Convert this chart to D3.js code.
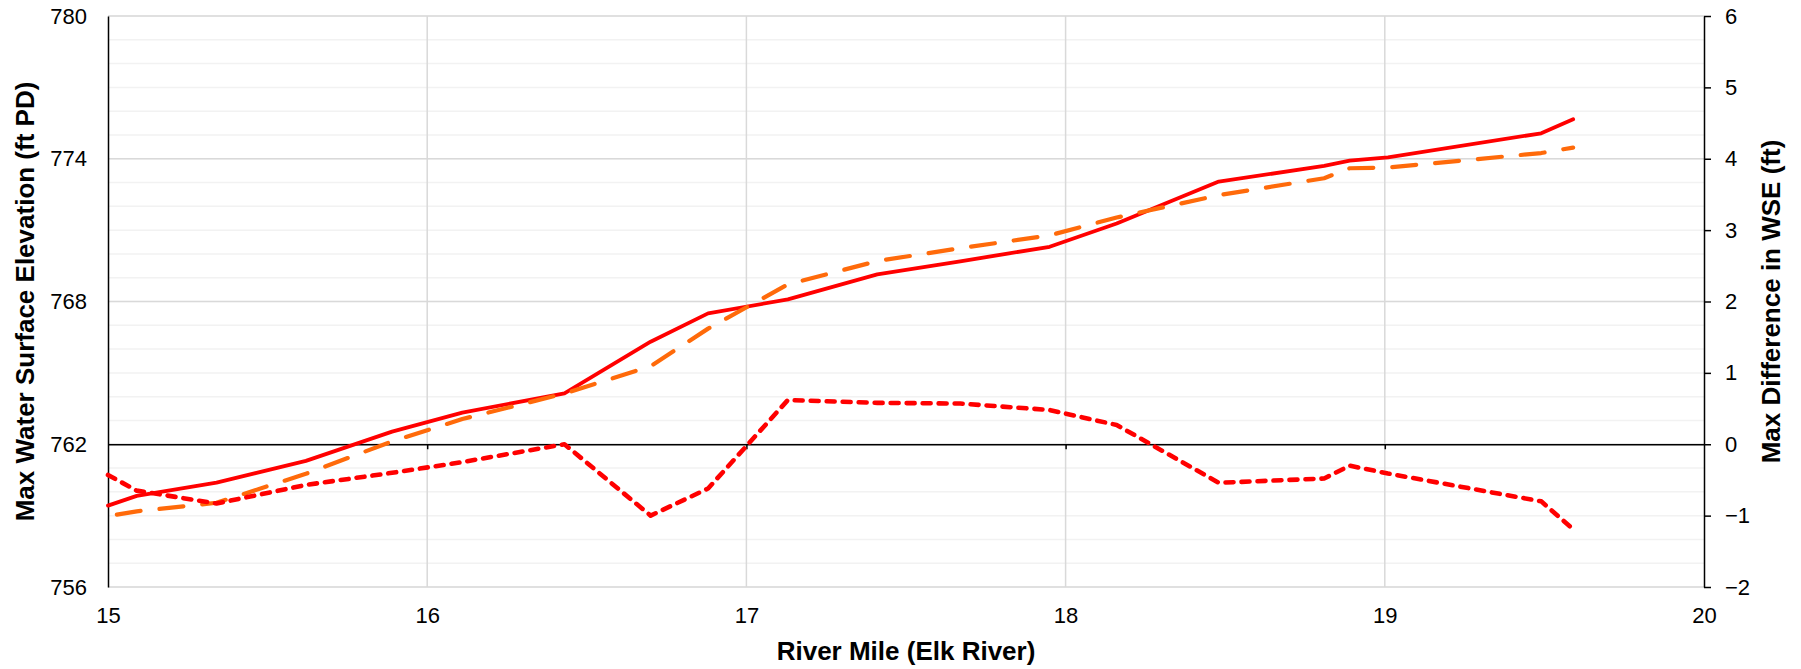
<!DOCTYPE html>
<html>
<head>
<meta charset="utf-8">
<script src="https://cdn.jsdelivr.net/npm/d3@7"></script>
<style>
  body { margin: 0; background: #fff; }
  text { font-family: "Liberation Sans", Arial, sans-serif; }
</style>
</head>
<body>
<div id="chart"></div>
<script>
// data
const miles = [15.00, 15.09, 15.34, 15.62, 15.89, 16.11, 16.43, 16.70, 16.88, 17.13, 17.41, 17.67, 17.95, 18.16, 18.48, 18.81, 18.89, 19.01, 19.49, 19.59]
const wseSolid = [759.42, 759.83, 760.39, 761.30, 762.53, 763.33, 764.14, 766.31, 767.50, 768.09, 769.14, 769.69, 770.30, 771.28, 773.04, 773.70, 773.92, 774.06, 775.07, 775.66]
const wseDashed = [758.98, 759.18, 759.54, 760.76, 762.12, 763.06, 764.13, 765.28, 766.86, 768.72, 769.70, 770.24, 770.78, 771.53, 772.47, 773.18, 773.60, 773.63, 774.24, 774.47]
const wseDiff = [-0.43, -0.65, -0.83, -0.57, -0.40, -0.25, 0.00, -1.00, -0.62, 0.62, 0.58, 0.57, 0.48, 0.27, -0.54, -0.48, -0.30, -0.41, -0.80, -1.19]

const xTicks = [15, 16, 17, 18, 19, 20]
const leftTicks = [756, 762, 768, 774, 780]
const leftMinor = d3.range(756, 781, 1)
const rightTicks = [-2, -1, 0, 1, 2, 3, 4, 5, 6]

const rows = miles.map((m, i) => ({ mile: m, solid: wseSolid[i], dashed: wseDashed[i], diff: wseDiff[i] }))

//constants
const width = 1801
const height = 669
const margins = { top: 16, bottom: 82, left: 108, right: 97 }
const fontSize = 22
const titleSize = 26

//SCALES
const xScale = d3.scaleLinear()
    .domain([15, 20])
    .range([margins.left, width - margins.right])
const yLeft = d3.scaleLinear()
    .domain([756, 780])
    .range([height - margins.bottom, margins.top])
const yRight = d3.scaleLinear()
    .domain([-2, 6])
    .range([height - margins.bottom, margins.top])

//svg
const svg = d3.select("#chart")
    .append("svg")
    .attr("width", width)
    .attr("height", height)

//minor gridlines
svg.append("g")
    .selectAll("line")
    .data(leftMinor)
    .join("line")
    .attr("x1", margins.left)
    .attr("x2", width - margins.right)
    .attr("y1", d => yLeft(d))
    .attr("y2", d => yLeft(d))
    .attr("stroke", "#f2f2f2")
    .attr("stroke-width", 1.5)

//major gridlines
svg.append("g")
    .selectAll("line")
    .data(leftTicks)
    .join("line")
    .attr("x1", margins.left)
    .attr("x2", width - margins.right)
    .attr("y1", d => yLeft(d))
    .attr("y2", d => yLeft(d))
    .attr("stroke", "#d9d9d9")
    .attr("stroke-width", 1.5)

svg.append("g")
    .selectAll("line")
    .data(xTicks.slice(1, -1))
    .join("line")
    .attr("x1", d => xScale(d))
    .attr("x2", d => xScale(d))
    .attr("y1", margins.top)
    .attr("y2", height - margins.bottom)
    .attr("stroke", "#d9d9d9")
    .attr("stroke-width", 1.5)

//axes
function styleAxis(g) {
    g.attr("font-size", fontSize)
     .attr("font-family", "'Liberation Sans', Arial, sans-serif")
    g.selectAll("text").attr("fill", "#000")
    g.selectAll("path, line").attr("stroke", "#000").attr("stroke-width", 1.5)
}

// x axis line sits on the secondary zero
svg.append("g")
    .attr("transform", `translate(0,${yRight(0)})`)
    .call(d3.axisBottom(xScale).tickValues(xTicks.slice(1, -1)).tickSize(5).tickSizeOuter(0).tickFormat(""))
    .call(styleAxis)

// x labels at the bottom
svg.append("g")
    .attr("transform", `translate(0,${height - margins.bottom})`)
    .call(d3.axisBottom(xScale).tickValues(xTicks).tickSize(0).tickPadding(20).tickFormat(d3.format("d")))
    .call(styleAxis)
    .call(g => g.select(".domain").remove())

svg.append("g")
    .attr("transform", `translate(${margins.left},0)`)
    .call(d3.axisLeft(yLeft).tickValues(leftTicks).tickSize(0).tickPadding(21))
    .call(styleAxis)

svg.append("g")
    .attr("transform", `translate(${width - margins.right},0)`)
    .call(d3.axisRight(yRight).tickValues(rightTicks).tickSize(7).tickSizeOuter(0).tickPadding(14))
    .call(styleAxis)

//lines
const lineSolid = d3.line().x(d => xScale(d.mile)).y(d => yLeft(d.solid))
const lineDashed = d3.line().x(d => xScale(d.mile)).y(d => yLeft(d.dashed))
const lineDiff = d3.line().x(d => xScale(d.mile)).y(d => yRight(d.diff))

svg.append("path")
    .datum(rows)
    .attr("d", lineSolid)
    .attr("fill", "none")
    .attr("stroke", "#ff0000")
    .attr("stroke-width", 3.8)
    .attr("stroke-linejoin", "round")
    .attr("stroke-linecap", "round")

svg.append("path")
    .datum(rows)
    .attr("d", lineDashed)
    .attr("fill", "none")
    .attr("stroke", "#ff6a0a")
    .attr("stroke-width", 4.2)
    .attr("stroke-dasharray", "24 19")
    .attr("stroke-dashoffset", -9)
    .attr("stroke-linejoin", "round")
    .attr("stroke-linecap", "round")

svg.append("path")
    .datum(rows)
    .attr("d", lineDiff)
    .attr("fill", "none")
    .attr("stroke", "#ff0000")
    .attr("stroke-width", 4.6)
    .attr("stroke-dasharray", "8 8")
    .attr("stroke-linejoin", "round")
    .attr("stroke-linecap", "round")

//titles
svg.append("text")
    .attr("x", (margins.left + width - margins.right) / 2)
    .attr("y", 660)
    .attr("text-anchor", "middle")
    .attr("font-size", titleSize)
    .attr("font-weight", "bold")
    .text("River Mile (Elk River)")

svg.append("text")
    .attr("transform", `translate(34,${(margins.top + height - margins.bottom) / 2}) rotate(-90)`)
    .attr("text-anchor", "middle")
    .attr("font-size", titleSize)
    .attr("font-weight", "bold")
    .text("Max Water Surface Elevation (ft PD)")

svg.append("text")
    .attr("transform", `translate(1780,${(margins.top + height - margins.bottom) / 2}) rotate(-90)`)
    .attr("text-anchor", "middle")
    .attr("font-size", titleSize)
    .attr("font-weight", "bold")
    .text("Max Difference in WSE (ft)")
</script>
</body>
</html>
